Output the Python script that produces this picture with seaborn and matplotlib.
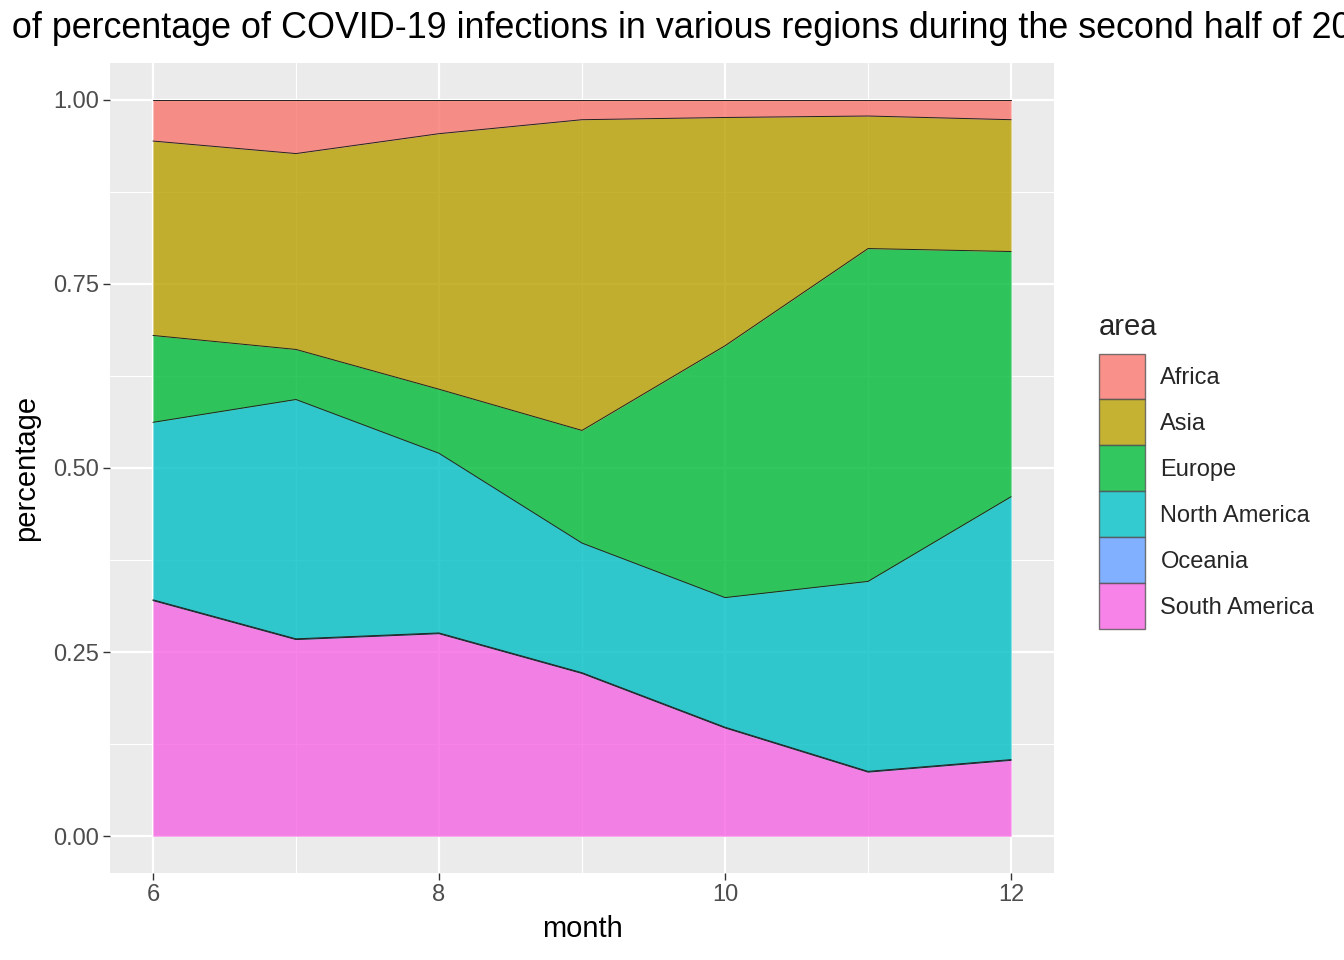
import pandas as pd
import matplotlib
matplotlib.use("Agg")
import matplotlib.pyplot as plt
from matplotlib.patches import Patch
from matplotlib.transforms import Bbox
from matplotlib.ticker import MultipleLocator, FixedLocator
import seaborn as sns

# shares of infections per region, months 6..12
months = [6, 7, 8, 9, 10, 11, 12]
areas = ["Africa", "Asia", "Europe", "North America", "Oceania", "South America"]
africa = [0.056, 0.073, 0.046, 0.027, 0.024, 0.022, 0.027]
asia = [0.264, 0.266, 0.347, 0.422, 0.310, 0.180, 0.179]
europe = [0.118, 0.068, 0.087, 0.153, 0.342, 0.452, 0.333]
north_america = [0.241, 0.325, 0.244, 0.176, 0.176, 0.258, 0.357]
oceania = [0.001, 0.001, 0.001, 0.001, 0.001, 0.001, 0.001]
south_america = [0.320, 0.267, 0.275, 0.221, 0.147, 0.087, 0.103]

# ggplot-like hue palette
colors = ["#F8766D", "#B79F00", "#00BA38", "#00BFC4", "#619CFF", "#F564E3"]

title_prefix = "Stacked area chart "
title_rest = "of percentage of COVID-19 infections in various regions during the second half of 2020"

df = pd.DataFrame({"month": months, "Africa": africa, "Asia": asia, "Europe": europe,
                   "North America": north_america, "Oceania": oceania,
                   "South America": south_america})
long = df.melt(id_vars="month", var_name="area", value_name="percentage")
wide = long.pivot(index="month", columns="area", values="percentage")[areas]

sns.set_theme(style="darkgrid", rc={"axes.facecolor": "#EBEBEB", "grid.color": "white"})
plt.rcParams["font.family"] = ["Liberation Sans", "DejaVu Sans"]

fig = plt.figure(figsize=(13.44, 9.6), dpi=100)
ax = fig.add_axes([110 / 1344, 1 - 873 / 960, 944 / 1344, 810 / 960])

# ggplot stacks the last level at the bottom
stack_order = areas[::-1]
stack_cols = colors[::-1]
ax.stackplot(wide.index, [wide[a] for a in stack_order], colors=stack_cols,
             alpha=0.8, linewidth=0, zorder=2)
cum = wide[stack_order].cumsum(axis=1)
for a in stack_order:
    sns.lineplot(x=cum.index, y=cum[a].values, ax=ax, color="#222222", lw=0.7, zorder=3)

ax.set_xlim(5.7, 12.3)
ax.set_ylim(-0.05, 1.05)
ax.xaxis.set_major_locator(FixedLocator([6, 8, 10, 12]))
ax.xaxis.set_minor_locator(FixedLocator([7, 9, 11]))
ax.yaxis.set_major_locator(MultipleLocator(0.25))
ax.yaxis.set_minor_locator(MultipleLocator(0.125))
ax.set_yticklabels([f"{v:.2f}" for v in ax.get_yticks()])
ax.grid(which="major", color="white", lw=1.6)
ax.grid(which="minor", color="white", lw=0.8)
ax.set_axisbelow(True)
for s in ax.spines.values():
    s.set_visible(False)
ax.tick_params(axis="both", which="major", length=4.8, width=1, color="#333333",
               labelsize=17, labelcolor="#4D4D4D", pad=3, bottom=True, left=True)
ax.tick_params(which="minor", length=0)

ax.set_xlabel("month", fontsize=21, color="black", labelpad=6.5)
ax.set_ylabel("percentage", fontsize=21, color="black", labelpad=9.5)

# long title, wider than the figure: place it so "of percentage" starts near the left edge
renderer = fig.canvas.get_renderer()
full = title_prefix + title_rest
t_a = fig.text(0, 0, title_prefix + "of", fontsize=25.8)
t_b = fig.text(0, 0, "of", fontsize=25.8)
shift = t_a.get_window_extent(renderer).width - t_b.get_window_extent(renderer).width
t_a.remove()
t_b.remove()
title = fig.text((12 - shift) / 1344, 1 - 28 / 960, full, fontsize=25.8, color="black",
                 ha="left", va="center")
title.set_clip_box(Bbox.from_extents(10, 0, 1344, 960))
title.set_clip_on(True)

handles = [Patch(facecolor=c, edgecolor="#555555", alpha=0.8, lw=1) for c in colors]
leg = fig.legend(handles, areas, title="area", loc="upper left",
                 bbox_to_anchor=(1099 / 1344, 1 - 313 / 960), frameon=False,
                 fontsize=17, title_fontsize=21, handlelength=1.95, handleheight=2.62,
                 labelspacing=0, handletextpad=0.65, borderpad=0, borderaxespad=0,
                 alignment="left")
leg._legend_box.sep = 9

fig.savefig("out.png", dpi=100)
